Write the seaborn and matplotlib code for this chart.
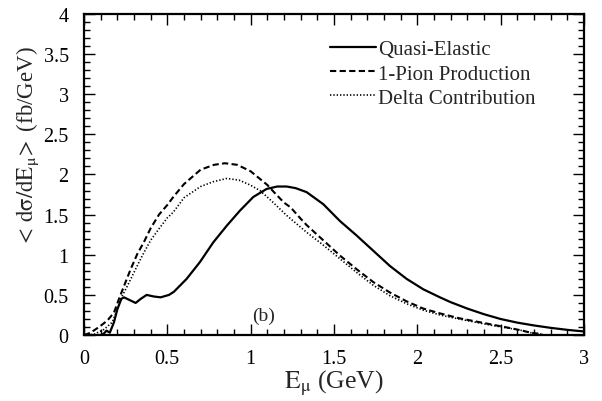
import numpy as np
import pandas as pd
import matplotlib
matplotlib.use("Agg")
import matplotlib.pyplot as plt
from matplotlib.ticker import MultipleLocator
import seaborn as sns

# values
qe_e = [0.0, 0.05, 0.1, 0.12, 0.135, 0.155, 0.18, 0.2, 0.224, 0.24, 0.28, 0.31, 0.34,
        0.376, 0.42, 0.46, 0.51, 0.54, 0.616, 0.696, 0.776, 0.856, 0.936, 1.016, 1.096,
        1.16, 1.216, 1.27, 1.336, 1.436, 1.536, 1.636, 1.736, 1.836, 1.936, 2.036, 2.136,
        2.2, 2.3, 2.4, 2.5, 2.6, 2.7, 2.8, 2.9, 3.0]
qe_y = [0.0, 0.0, 0.0, 0.02, 0.055, 0.03, 0.16, 0.32, 0.45, 0.47, 0.43, 0.40, 0.45,
        0.50, 0.48, 0.47, 0.50, 0.54, 0.70, 0.91, 1.155, 1.36, 1.55, 1.72, 1.82,
        1.85, 1.85, 1.83, 1.78, 1.63, 1.42, 1.24, 1.05, 0.86, 0.70, 0.57, 0.47,
        0.41, 0.33, 0.26, 0.20, 0.155, 0.12, 0.09, 0.065, 0.045]

pion_e = [0.0, 0.04, 0.09, 0.14, 0.18, 0.21, 0.24, 0.28, 0.32, 0.36, 0.40, 0.45, 0.50,
          0.536, 0.6, 0.7, 0.78, 0.846, 0.92, 1.0, 1.1, 1.14, 1.2, 1.24, 1.3, 1.336,
          1.436, 1.536, 1.636, 1.736, 1.836, 1.936, 2.036, 2.136, 2.25, 2.35, 2.45,
          2.55, 2.62, 2.68, 2.75]
pion_y = [0.0, 0.03, 0.10, 0.18, 0.28, 0.45, 0.61, 0.82, 1.01, 1.16, 1.33, 1.50, 1.62,
          1.72, 1.88, 2.06, 2.12, 2.14, 2.12, 2.04, 1.87, 1.78, 1.65, 1.59, 1.45, 1.37,
          1.18, 0.99, 0.82, 0.66, 0.53, 0.42, 0.33, 0.27, 0.21, 0.17, 0.13,
          0.09, 0.06, 0.03, 0.01]

delta_e = [0.0, 0.06, 0.12, 0.17, 0.2, 0.23, 0.26, 0.3, 0.35, 0.4, 0.456, 0.5, 0.536,
           0.6, 0.7, 0.776, 0.856, 0.93, 0.996, 1.056, 1.136, 1.216, 1.296, 1.336,
           1.436, 1.536, 1.636, 1.736, 1.836, 1.936, 2.036, 2.136, 2.25, 2.35, 2.45,
           2.55, 2.62, 2.68, 2.75]
delta_y = [0.0, 0.01, 0.07, 0.16, 0.32, 0.49, 0.61, 0.78, 0.99, 1.18, 1.34, 1.46, 1.53,
           1.71, 1.85, 1.91, 1.95, 1.93, 1.87, 1.80, 1.65, 1.49, 1.35, 1.28,
           1.12, 0.95, 0.78, 0.62, 0.49, 0.39, 0.31, 0.25, 0.20, 0.16, 0.12,
           0.085, 0.06, 0.03, 0.01]

labels = ["Quasi-Elastic", "1-Pion Production", "Delta Contribution"]

sns.set_style("ticks")
plt.rcParams["font.family"] = ["Liberation Serif", "DejaVu Serif"]
plt.rcParams["mathtext.fontset"] = "stix"

fig = plt.figure(figsize=(6.02, 4.02), dpi=100)
ax = fig.add_axes([0.1395, 0.164, 0.8305, 0.799])

sns.lineplot(x=qe_e, y=qe_y, ax=ax, color="black", linewidth=1.6,
             label=labels[0], sort=False)
sns.lineplot(x=pion_e, y=pion_y, ax=ax, color="black", linewidth=1.5,
             linestyle=(0, (3, 1.6)), label=labels[1], sort=False)
sns.lineplot(x=delta_e, y=delta_y, ax=ax, color="black", linewidth=1.2,
             linestyle=(0, (0.8, 1.2)), label=labels[2], sort=False)

ax.set_xlim(0, 3)
ax.set_ylim(0, 4)
ax.xaxis.set_major_locator(MultipleLocator(0.5))
ax.xaxis.set_minor_locator(MultipleLocator(0.1))
ax.yaxis.set_major_locator(MultipleLocator(0.5))
ax.yaxis.set_minor_locator(MultipleLocator(0.1))
ax.xaxis.set_major_formatter(plt.FuncFormatter(lambda v, p: f"{v:g}"))
ax.yaxis.set_major_formatter(plt.FuncFormatter(lambda v, p: f"{v:g}"))
ax.tick_params(which="both", direction="in", top=True, right=True, labelsize=14.5,
               width=1.0, color="black", labelcolor="black")
ax.tick_params(which="major", length=8)
ax.tick_params(which="minor", length=4)
ax.tick_params(axis="x", which="major", pad=10)
ax.tick_params(axis="y", which="major", pad=11)
for s in ax.spines.values():
    s.set_linewidth(1.6)
    s.set_color("black")

ax.set_xlabel(r"$\mathrm{E_{\mu}}$ (GeV)", fontsize=18.5, labelpad=0)
ax.set_ylabel(r"$<\,\mathrm{d\sigma/dE_{\mu}}\!>$ (fb/GeV)", fontsize=16.5)
ax.yaxis.set_label_coords(-0.085, 0.59)

ax.text(1.08, 0.24, "(b)", fontsize=14, ha="center", va="center")

ax.legend(loc="upper right", bbox_to_anchor=(0.92, 0.945), frameon=False,
          fontsize=15, handlelength=2.2, handletextpad=0.1, labelspacing=0.22,
          borderaxespad=0)

fig.savefig("out.png", dpi=100)
